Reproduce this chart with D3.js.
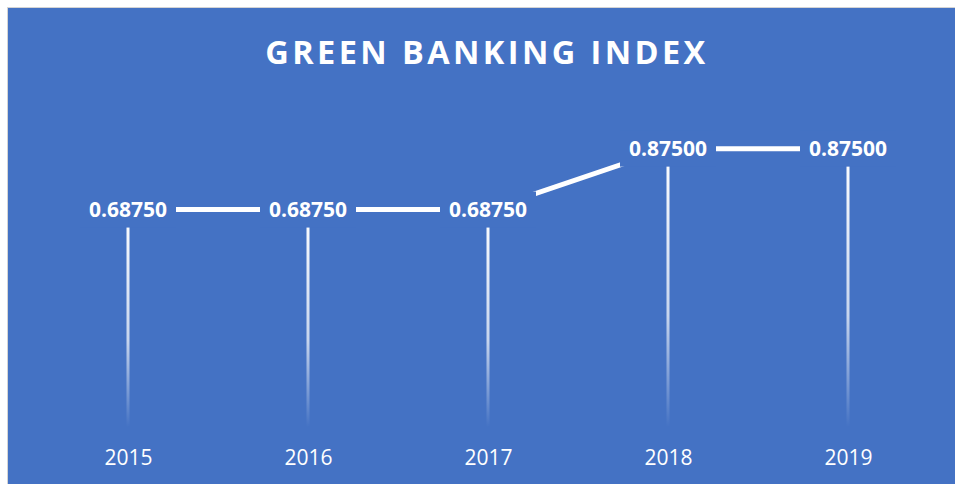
<!DOCTYPE html>
<html>
<head>
<meta charset="utf-8">
<script src="https://cdn.jsdelivr.net/npm/d3@7"></script>
<style>
  body { margin: 0; background: #fff; }
  svg { display: block; }
</style>
</head>
<body>
<svg id="chart" width="955" height="484"></svg>
<script>
const years = ["2015", "2016", "2017", "2018", "2019"];
const values = [0.6875, 0.6875, 0.6875, 0.875, 0.875];
const chartTitle = "GREEN BANKING INDEX";

const width = 955, height = 484;
const bg = "#4472C4";

const svg = d3.select("#chart");

// panel background with thin grey frame on top/left
svg.append("rect")
    .attr("x", 7.5).attr("y", 7.5)
    .attr("width", 960).attr("height", 490)
    .attr("fill", bg)
    .attr("stroke", "#d4d4d4")
    .attr("stroke-width", 1);

const data = years.map((y, i) => ({ year: y, value: values[i] }));

const x = d3.scalePoint()
    .domain(years)
    .range([38, 938])
    .padding(0.5);

const y = d3.scaleLinear()
    .domain([0, 1])
    .range([433, 108]);

// title
svg.append("text")
    .attr("x", 487)
    .attr("y", 64)
    .attr("text-anchor", "middle")
    .attr("fill", "#fff")
    .style("font-family", "'Open Sans', sans-serif")
    .style("font-weight", 700)
    .style("font-size", "32.5px")
    .style("letter-spacing", "3.4px")
    .text(chartTitle);

// gradient for the drop lines
const defs = svg.append("defs");
data.forEach((d, i) => {
    const g = defs.append("linearGradient")
        .attr("id", "drop" + i)
        .attr("gradientUnits", "userSpaceOnUse")
        .attr("x1", 0).attr("x2", 0)
        .attr("y1", y(d.value)).attr("y2", y(0) - 6);
    g.append("stop").attr("offset", "0%").attr("stop-color", "#fff").attr("stop-opacity", 1);
    g.append("stop").attr("offset", "60%").attr("stop-color", "#fff").attr("stop-opacity", 0.7);
    g.append("stop").attr("offset", "100%").attr("stop-color", "#fff").attr("stop-opacity", 0);
});

svg.append("g")
    .selectAll("line")
    .data(data)
    .join("line")
    .attr("x1", d => x(d.year))
    .attr("x2", d => x(d.year))
    .attr("y1", d => y(d.value))
    .attr("y2", y(0) - 6)
    .attr("stroke", (d, i) => `url(#drop${i})`)
    .attr("stroke-width", 3);

// main line
const line = d3.line()
    .x(d => x(d.year))
    .y(d => y(d.value));

svg.append("path")
    .datum(data)
    .attr("d", line)
    .attr("fill", "none")
    .attr("stroke", "#fff")
    .attr("stroke-width", 5);

// data labels with background boxes that cut the line
const labels = svg.append("g")
    .selectAll("g")
    .data(data)
    .join("g")
    .attr("transform", d => `translate(${x(d.year)},${y(d.value)})`);

labels.append("rect")
    .attr("x", -48).attr("y", -18)
    .attr("width", 96).attr("height", 36)
    .attr("fill", bg);

labels.append("text")
    .attr("text-anchor", "middle")
    .attr("dy", "0.35em")
    .attr("fill", "#fff")
    .style("font-family", "'Open Sans', sans-serif")
    .style("font-weight", 700)
    .style("font-size", "21px")
    .text(d => d3.format(".5f")(d.value));

// x axis labels
const xAxis = d3.axisBottom(x).tickSize(0).tickPadding(0);
const axisG = svg.append("g")
    .attr("transform", `translate(0,${y(0)})`)
    .call(xAxis);
axisG.select(".domain").remove();
axisG.selectAll("text")
    .attr("dy", "0.35em")
    .attr("y", 25)
    .attr("fill", "#fff")
    .style("font-family", "'Open Sans', sans-serif")
    .style("font-size", "21px");
</script>
</body>
</html>
